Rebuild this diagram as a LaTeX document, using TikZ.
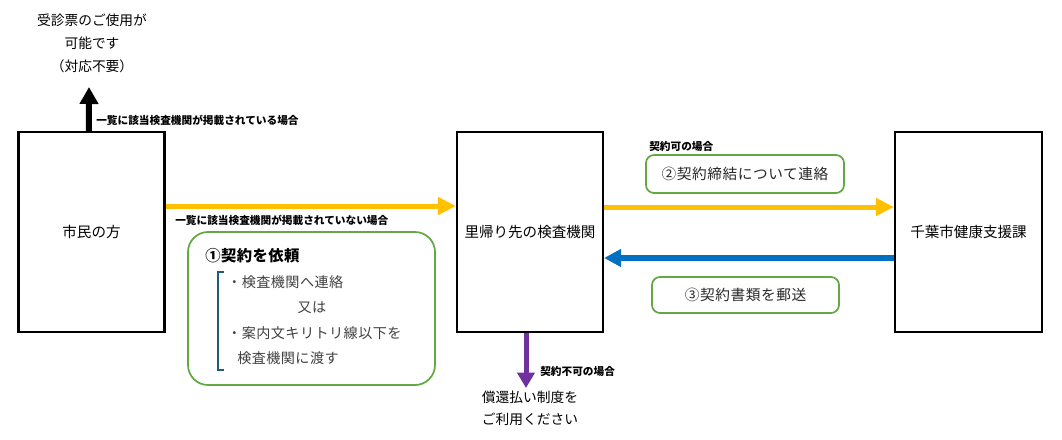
\documentclass[tikz,border=0pt]{standalone}
\usepackage{fontspec}
\setmainfont{Noto Sans CJK JP}
\usepackage{tikz}
\usetikzlibrary{arrows.meta, positioning, calc}
\definecolor{ArrowYellow}{HTML}{FFC000}
\definecolor{ArrowBlue}{HTML}{0070C0}
\definecolor{ArrowPurple}{HTML}{7030A0}
\definecolor{NoteGreen}{HTML}{62A844}
\definecolor{BracketBlue}{HTML}{1F5C7A}
\definecolor{ItemGray}{HTML}{404040}
\tikzset{
  orgbox/.style={rectangle, draw=black, line width=1.6pt, fill=white, minimum width=109.5pt, minimum height=150pt, font=\fontsize{10.9}{13}\selectfont, align=center, inner sep=0pt},
  stepnote/.style={rectangle, rounded corners=6pt, draw=NoteGreen, line width=1.3pt, font=\fontsize{11}{13}\selectfont\addfontfeature{LetterSpace=4}, text=black!85, inner sep=0pt},
  casetag/.style={font=\bfseries\fontsize{8}{10}\selectfont, inner sep=0pt, anchor=west},
  itemtext/.style={font=\fontsize{10.6}{13}\selectfont\addfontfeature{LetterSpace=3}, text=ItemGray, inner sep=0pt},
  plaintext/.style={font=\fontsize{10.3}{17.25}\selectfont, align=center, inner sep=0pt},
  yellowarrow/.style={-{Triangle[length=13.5pt, width=12.75pt]}, line width=3.75pt, ArrowYellow},
  bluearrow/.style={-{Triangle[length=12.75pt, width=12.75pt]}, line width=4pt, ArrowBlue},
  purplearrow/.style={-{Triangle[length=11.5pt, width=12.75pt]}, line width=3.75pt, ArrowPurple},
  blackarrow/.style={-{Triangle[length=12.75pt, width=13.5pt]}, line width=4.5pt, black}
}
\begin{document}
\begin{tikzpicture}[x=0.75pt, y=-0.75pt]
  \useasboundingbox (0,0) rectangle (1062,439);

  % Boxes
  \node[orgbox] (citizen) at (91.5,232) {市民の方};
  \node[orgbox] (clinic) at (530,232) {里帰り先の検査機関};
  \node[orgbox, minimum width=110.25pt] (chiba) at (968.5,232) {千葉市健康支援課};

  % Listed case
  \node[plaintext] (usable) at (92,43) {受診票のご使用が\\可能です\\（対応不要）};
  \coordinate (usabletip) at (89,87);
  \draw[blackarrow] ([xshift=-1.9pt]citizen.north) -- (usabletip);
  \node[casetag] (listedtag) at (96,120) {一覧に該当検査機関が掲載されている場合};

  % Not listed case
  \draw[yellowarrow] ([yshift=19.5pt]citizen.east) -- ([yshift=19.5pt]clinic.west);
  \node[casetag] (unlistedtag) at (175,220) {一覧に該当検査機関が掲載されていない場合};
  \node[stepnote, rounded corners=15pt, minimum width=185.25pt, minimum height=114.75pt] (request) at (311.5,308.5) {};
  \node[anchor=west, inner sep=0pt, font=\bfseries\fontsize{11.5}{13}\selectfont\addfontfeature{LetterSpace=3}] (requesttitle) at (205,256) {①契約を依頼};
  \draw[BracketBlue, line width=1.1pt] (224,272) -- (218,272) -- (218,370) -- (224,370);
  \node[itemtext, anchor=west] (item1) at (227,282) {・検査機関へ連絡};
  \node[itemtext] (item2) at (312,308) {又は};
  \node[itemtext, anchor=west] (item3) at (227,333) {・案内文キリトリ線以下を};
  \node[itemtext, anchor=west] (item4) at (237,358) {検査機関に渡す};

  % Contract
  \draw[yellowarrow] ([yshift=18.75pt]clinic.east) -- ([yshift=18.75pt]chiba.west);
  \node[casetag] (oktag) at (649,146) {契約可の場合};
  \node[stepnote, minimum width=148.5pt, minimum height=28.5pt] (contact) at (745,174) {②契約締結について連絡};
  \draw[bluearrow] ([yshift=-19.5pt]chiba.west) -- ([yshift=-19.5pt]clinic.east);
  \node[stepnote, minimum width=140.25pt, minimum height=27pt] (mail) at (745.5,295) {③契約書類を郵送};

  % Refund case
  \coordinate (refundtip) at (526,388);
  \draw[purplearrow] ([xshift=-3pt]clinic.south) -- (refundtip);
  \node[casetag] (ngtag) at (540,371) {契約不可の場合};
  \node[plaintext, align=left, font=\fontsize{10.3}{16.5}\selectfont] (refund) at (530,408) {償還払い制度を\\ご利用ください};
\end{tikzpicture}
\end{document}
